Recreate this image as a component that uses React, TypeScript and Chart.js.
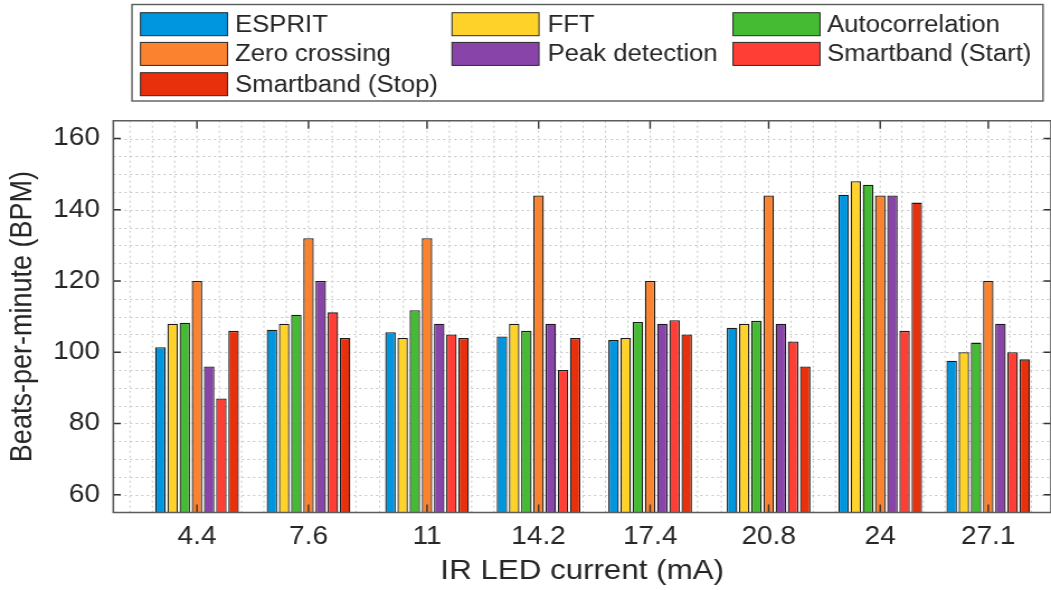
import React, { useEffect, useRef } from "react";
import { Chart, registerables } from "chart.js";

Chart.register(...registerables);

// ---------- data ----------
const CURRENTS = [4.4, 7.6, 11, 14.2, 17.4, 20.8, 24, 27.1];
const TICK_LABELS = ["4.4", "7.6", "11", "14.2", "17.4", "20.8", "24", "27.1"];
const SERIES_NAMES = [
  "ESPRIT",
  "FFT",
  "Autocorrelation",
  "Zero crossing",
  "Peak detection",
  "Smartband (Start)",
  "Smartband (Stop)",
];
const ESPRIT = [101.4, 106.3, 105.6, 104.4, 103.4, 106.9, 144.2, 97.6];
const FFT = [108, 108, 104, 108, 104, 108, 148, 100];
const AUTOCORRELATION = [108.3, 110.5, 111.8, 106, 108.5, 108.8, 147, 102.7];
const ZERO_CROSSING = [120, 132, 132, 144, 120, 144, 144, 120];
const PEAK_DETECTION = [96, 120, 108, 108, 108, 108, 144, 108];
const SMARTBAND_START = [87, 111.2, 105, 95, 109, 103, 106, 100];
const SMARTBAND_STOP = [106, 104, 104, 104, 105, 96, 142, 98];
const SERIES_VALUES = [
  ESPRIT,
  FFT,
  AUTOCORRELATION,
  ZERO_CROSSING,
  PEAK_DETECTION,
  SMARTBAND_START,
  SMARTBAND_STOP,
];
const Y_TICKS = [60, 80, 100, 120, 140, 160];

// ---------- styles ----------
const COLORS = [
  "#0095df",
  "#ffd22a",
  "#44bb33",
  "#fb832f",
  "#8944aa",
  "#ff3f35",
  "#e8300c",
];
const Y_MIN = 55;
const Y_MAX = 165;
const X_MIN = 2;
const X_MAX = 28.9;
const Y_GRID_STEP = 5;
const MINOR_DIV = 5;

const OUT_W = 1051;
const H = 590;
const W = 940; // internal canvas width, stretched horizontally to OUT_W
const SX = OUT_W / W;

const TEXT = "#262626";
const FONT = "'Liberation Sans', Arial, Helvetica, sans-serif";

const gridFramePlugin = {
  id: "gridFrame",
  beforeDatasetsDraw(chart: any) {
    const { ctx, chartArea } = chart;
    const xs = chart.scales.x;
    const ys = chart.scales.y;
    ctx.save();
    ctx.strokeStyle = "#c6c6c6";
    ctx.lineWidth = 1;
    ctx.setLineDash([2, 3]);
    // horizontal dotted grid
    for (let v = Y_MIN + Y_GRID_STEP; v < Y_MAX; v += Y_GRID_STEP) {
      const y = Math.round(ys.getPixelForValue(v)) + 0.5;
      ctx.beginPath();
      ctx.moveTo(chartArea.left, y);
      ctx.lineTo(chartArea.right, y);
      ctx.stroke();
    }
    // vertical dotted grid (major + minor)
    const vals: number[] = [];
    const n = CURRENTS.length;
    const step0 = (CURRENTS[1] - CURRENTS[0]) / MINOR_DIV;
    for (let v = CURRENTS[0] - step0; v > X_MIN + 1e-6; v -= step0) vals.push(v);
    for (let i = 0; i < n - 1; i++) {
      const st = (CURRENTS[i + 1] - CURRENTS[i]) / MINOR_DIV;
      for (let k = 0; k < MINOR_DIV; k++) vals.push(CURRENTS[i] + k * st);
    }
    vals.push(CURRENTS[n - 1]);
    const stepN = (CURRENTS[n - 1] - CURRENTS[n - 2]) / MINOR_DIV;
    for (let v = CURRENTS[n - 1] + stepN; v < X_MAX - 1e-6; v += stepN) vals.push(v);
    for (const v of vals) {
      const x = xs.getPixelForValue(v);
      ctx.beginPath();
      ctx.moveTo(x, chartArea.top);
      ctx.lineTo(x, chartArea.bottom);
      ctx.stroke();
    }
    ctx.restore();
  },
  afterDatasetsDraw(chart: any) {
    const { ctx, chartArea } = chart;
    const xs = chart.scales.x;
    const ys = chart.scales.y;
    const left = chartArea.left;
    const right = xs.getPixelForValue(X_MAX);
    const top = chartArea.top;
    const bottom = chartArea.bottom;
    ctx.save();
    ctx.setLineDash([]);
    // ticks
    ctx.strokeStyle = "#333333";
    ctx.lineWidth = 1.4;
    const tlx = 7.5 / SX;
    const tly = 8;
    for (const v of Y_TICKS) {
      const y = ys.getPixelForValue(v);
      ctx.beginPath();
      ctx.moveTo(left, y);
      ctx.lineTo(left + tlx, y);
      ctx.moveTo(right, y);
      ctx.lineTo(right - tlx, y);
      ctx.stroke();
    }
    for (const v of CURRENTS) {
      const x = xs.getPixelForValue(v);
      ctx.beginPath();
      ctx.moveTo(x, bottom);
      ctx.lineTo(x, bottom - tly);
      ctx.moveTo(x, top);
      ctx.lineTo(x, top + tly);
      ctx.stroke();
    }
    // frame
    ctx.strokeStyle = "#5c5c5c";
    ctx.lineWidth = 1.6;
    ctx.beginPath();
    ctx.moveTo(right, top);
    ctx.lineTo(left, top);
    ctx.lineTo(left, bottom);
    ctx.lineTo(right, bottom);
    ctx.lineTo(right, top);
    ctx.stroke();
    ctx.restore();
  },
  afterDraw(chart: any) {
    const { ctx } = chart;
    ctx.save();
    // legend box
    const bx = 132 / SX;
    const by = 4.5;
    const bw = (1043 - 132) / SX;
    const bh = 96.5;
    ctx.fillStyle = "#ffffff";
    ctx.fillRect(bx, by, bw, bh);
    ctx.strokeStyle = "#5c5c5c";
    ctx.lineWidth = 1.4;
    ctx.strokeRect(bx, by, bw, bh);
    const swatchL = [140.5 / SX, 452 / SX, 733 / SX];
    const swatchW = 87 / SX;
    const textX = [235 / SX, 547.5 / SX, 827 / SX];
    const rowY = [24.2, 53.9, 84.2];
    const sh = 23;
    ctx.font = `23px ${FONT}`;
    ctx.textBaseline = "middle";
    ctx.textAlign = "left";
    SERIES_NAMES.forEach((name, i) => {
      const col = i % 3;
      const row = Math.floor(i / 3);
      const cy = rowY[row];
      ctx.fillStyle = COLORS[i];
      ctx.fillRect(swatchL[col], cy - sh / 2, swatchW, sh);
      ctx.strokeStyle = "#2a2a2a";
      ctx.lineWidth = 1;
      ctx.strokeRect(swatchL[col], cy - sh / 2, swatchW, sh);
      ctx.fillStyle = TEXT;
      ctx.fillText(name, textX[col], cy + 1);
    });
    ctx.restore();
  },
};

export default function App() {
  const canvasRef = useRef<HTMLCanvasElement | null>(null);

  useEffect(() => {
    const canvas = canvasRef.current;
    if (!canvas) return;
    const plotLeft = 113.3 / SX;
    const datasets = SERIES_NAMES.map((name, i) => ({
      label: name,
      data: CURRENTS.map((x, j) => ({ x, y: SERIES_VALUES[i][j] })),
      backgroundColor: COLORS[i],
      borderColor: "#1a1a1a",
      borderWidth: 1.3,
      categoryPercentage: 0.79,
      barPercentage: 0.86,
    }));
    const chart = new Chart(canvas, {
      type: "bar",
      data: { datasets },
      plugins: [gridFramePlugin],
      options: {
        responsive: false,
        animation: false,
        devicePixelRatio: 1,
        layout: { padding: { top: 120.7, right: -4.7, bottom: 0, left: 0 } },
        plugins: {
          legend: { display: false },
          tooltip: { enabled: false },
        },
        scales: {
          x: {
            type: "linear",
            min: X_MIN,
            max: X_MAX,
            offset: false,
            grid: { display: false, drawTicks: false },
            border: { display: false },
            afterBuildTicks: (s: any) => {
              s.ticks = CURRENTS.map((v) => ({ value: v }));
            },
            afterFit: (s: any) => {
              s.height = H - 512.5;
            },
            ticks: {
              autoSkip: false,
              maxRotation: 0,
              padding: 10,
              color: TEXT,
              font: { family: FONT, size: 25 },
              callback: (_v: any, i: number) => TICK_LABELS[i],
            },
            title: {
              display: true,
              text: "IR LED current (mA)",
              color: TEXT,
              font: { family: FONT, size: 28 },
              padding: { top: 0, bottom: 2 },
            },
          },
          y: {
            type: "linear",
            min: Y_MIN,
            max: Y_MAX,
            grid: { display: false, drawTicks: false },
            border: { display: false },
            afterBuildTicks: (s: any) => {
              s.ticks = Y_TICKS.map((v) => ({ value: v }));
            },
            afterFit: (s: any) => {
              s.width = plotLeft;
            },
            ticks: {
              padding: 12,
              color: TEXT,
              font: { family: FONT, size: 25 },
            },
            title: {
              display: true,
              text: "Beats-per-minute (BPM)",
              color: TEXT,
              font: { family: FONT, size: 27 },
              padding: { top: 4.7, bottom: 0 },
            },
          },
        },
      } as any,
    });
    return () => chart.destroy();
  }, []);

  return (
    <div
      style={{
        position: "absolute",
        left: 0,
        top: 0,
        width: OUT_W,
        height: H,
        background: "#ffffff",
        overflow: "hidden",
      }}
    >
      <canvas
        ref={canvasRef}
        width={W}
        height={H}
        style={{ display: "block", width: `${OUT_W}px`, height: `${H}px` }}
      />
    </div>
  );
}
